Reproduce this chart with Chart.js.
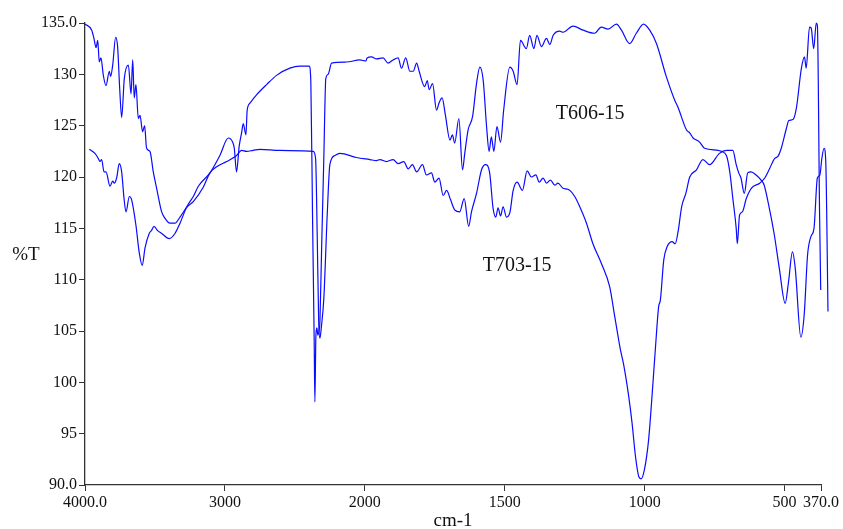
<!DOCTYPE html>
<html>
<head>
<meta charset="utf-8">
<script src="https://cdn.jsdelivr.net/npm/chart.js@4.4.1/dist/chart.umd.min.js"></script>
<style>
  html, body { margin: 0; padding: 0; background: #fff; }
  #wrap { width: 843px; height: 529px; }
</style>
</head>
<body>
<div id="wrap"><canvas id="ir-chart" width="843" height="529"></canvas></div>
<script>
// wavenumbers (cm-1) and %T
var waveT606 = [4000,3952,3936,3921,3909,3898,3886,3869,3850,3826,3817,3802,3781,3767,3752,3738,3719,3690,3671,3659,3648,3636,3619,3607,3588,3574,3560,3536,3512,3488,3452,3429,3393,3357,3321,3250,3226,3190,3107,3036,2976,2945,2933,2917,2898,2881,2869,2850,2841,2821,2774,2702,2631,2536,2464,2398,2386,2374,2362,2357,2350,2343,2336,2328,2321,2309,2293,2279,2262,2238,2131,2036,1996,1992,1976,1958,1935,1917,1899,1881,1869,1854,1839,1827,1815,1806,1786,1777,1770,1758,1744,1735,1724,1712,1696,1687,1679,1664,1651,1643,1631,1615,1601,1589,1577,1565,1556,1548,1539,1528,1515,1504,1482,1470,1456,1444,1423,1411,1396,1385,1369,1351,1339,1327,1304,1292,1256,1220,1179,1155,1131,1101,1083,1054,1030,1004,982,958,923,893,881,851,839,827,815,804,786,738,726,708,696,685,673,669,661,651,637,619,589,571,554,536,524,512,494,485,470,458,440,429,423,411,405,396,387,383,375,371];
var pctT606 = [134.9,134.3,133.5,132.6,133.3,131.2,131.6,129.9,128.9,130.3,129.8,130.9,133.6,132.7,128.6,125.8,129.6,130.9,128.1,131.4,127.7,129.0,125.7,126.0,124.4,125.0,122.8,122.5,120.5,118.9,116.6,116.0,115.5,115.5,116.1,117.6,118.1,119.1,120.4,122.1,123.8,123.4,122.8,120.5,123.0,124.3,125.2,124.1,126.5,127.2,128.0,129.0,129.9,130.6,130.8,130.8,129.3,116.3,104.0,98.1,104.5,105.3,104.6,105.0,106.0,113.0,122.0,129.6,130.0,131.1,131.2,131.4,131.3,131.6,131.7,131.5,131.6,131.1,131.4,131.6,130.6,131.6,130.3,130.3,131.1,130.3,128.8,129.4,128.5,129.1,126.5,127.2,127.7,126.0,123.6,124.1,123.3,125.7,120.7,122.3,124.6,125.9,129.1,130.7,129.4,124.9,122.5,123.9,122.5,124.9,123.4,126.5,130.7,130.3,129.0,133.3,132.5,133.8,132.5,133.8,132.7,133.5,132.9,133.8,134.2,134.1,134.7,134.3,134.0,134.6,134.4,134.9,134.3,133.0,134.0,134.9,134.3,133.0,129.8,127.5,126.8,124.6,124.3,123.8,123.6,123.4,122.8,122.6,122.5,122.1,120.5,117.9,115.0,113.5,116.3,116.6,117.9,118.9,119.4,119.9,120.8,121.8,122.0,122.8,124.7,125.5,125.6,126.7,130.6,131.7,130.6,134.6,134.5,132.5,135.0,134.8,116.3,109.0];

var waveT703 = [3969,3929,3905,3893,3881,3864,3850,3821,3802,3791,3774,3755,3738,3721,3707,3683,3667,3636,3612,3591,3571,3541,3524,3507,3483,3452,3398,3357,3321,3274,3226,3155,3107,3059,2988,2917,2881,2845,2798,2750,2607,2369,2352,2340,2330,2321,2310,2293,2269,2250,2214,2179,2060,1982,1958,1946,1923,1899,1881,1861,1845,1830,1815,1794,1780,1762,1750,1735,1720,1708,1694,1679,1661,1645,1629,1619,1601,1583,1569,1554,1542,1532,1524,1515,1506,1494,1482,1470,1456,1437,1420,1405,1389,1377,1363,1351,1337,1321,1310,1292,1274,1250,1232,1208,1185,1155,1125,1107,1099,1087,1075,1057,1045,1033,1021,1013,1001,986,974,962,950,944,932,920,902,891,880,868,853,839,815,792,768,733,708,685,673,664,656,644,632,620,602,584,573,555,537,519,498,486,472,462,442,430,418,406,395,383,374,367,359,353,345];
var pctT703 = [122.7,122.3,121.8,121.5,121.7,120.5,120.5,119.1,119.6,119.4,119.9,121.3,120.5,117.9,116.6,118.1,117.8,115.3,112.6,111.4,113.1,114.5,114.8,115.2,114.8,114.5,114.0,114.5,115.5,117.0,117.6,119.0,120.4,121.0,121.5,122.1,122.6,122.5,122.6,122.7,122.6,122.5,121.8,114.0,106.0,104.3,105.5,108.2,116.3,121.2,122.1,122.3,121.9,121.7,121.6,121.7,121.5,121.7,121.3,121.5,120.8,121.2,120.5,121.2,120.2,120.4,119.5,119.9,118.2,118.7,117.8,116.8,116.6,117.9,115.2,116.6,118.4,120.7,121.2,120.4,117.0,116.1,117.0,116.2,117.1,116.1,116.5,118.7,119.5,118.7,120.6,120.0,120.2,119.5,119.9,119.4,119.7,119.2,119.4,118.9,118.8,118.1,117.1,115.5,113.5,111.6,109.3,106.4,105.1,103.2,101.7,98.6,96.0,92.8,90.8,90.6,91.5,94.4,98.6,103.2,107.4,108.0,111.9,113.2,113.7,113.5,114.8,117.1,118.4,120.0,120.7,121.7,121.2,122.3,122.6,122.6,121.2,120.4,119.9,118.4,120.4,120.5,120.2,119.7,119.2,117.0,114.4,111.1,107.7,109.8,112.7,111.1,104.4,106.6,112.4,114.2,115.0,119.9,120.2,121.8,122.8,121.5,106.9];

var xTickValues = [4000, 3000, 2000, 1500, 1000, 500, 370];
var xTickLabels = ['4000.0', '3000', '2000', '1500', '1000', '500', '370.0'];
var yTickLabels = {90: '90.0', 135: '135.0'};

var seriesNames = ['T606-15', 'T703-15'];
var labelWave = [1318, 1579];
var labelPct = [126.2, 111.4];

// the instrument plots above 2000 cm-1 at half scale
function toAxis(w) {
    return w <= 2000 ? w : 2000 + (w - 2000) / 2;
}

function buildPoints(waves, vals) {
    return waves.map(function (w, i) {
        return { x: toAxis(w), y: vals[i] };
    });
}

var serif = "'Liberation Serif', 'Times New Roman', serif";

var extraText = {
    id: 'extraText',
    afterDraw: function (chart) {
        var c = chart.ctx;
        var xs = chart.scales.x;
        var ys = chart.scales.y;
        var area = chart.chartArea;
        c.save();
        c.fillStyle = '#111';
        c.textBaseline = 'middle';
        c.textAlign = 'left';
        c.font = '20px ' + serif;
        for (var i = 0; i < seriesNames.length; i++) {
            c.fillText(seriesNames[i], xs.getPixelForValue(toAxis(labelWave[i])), ys.getPixelForValue(labelPct[i]));
        }
        c.font = '19px ' + serif;
        c.textAlign = 'center';
        c.fillText('%T', 26, (area.top + area.bottom) / 2 + 1);
        c.textBaseline = 'alphabetic';
        c.fillText('cm-1', (area.left + area.right) / 2, area.bottom + 41);
        c.restore();
    }
};

function lineSet(name, pts) {
    return {
        label: name,
        data: pts,
        borderColor: '#0a0aff',
        borderWidth: 1.2,
        pointRadius: 0,
        cubicInterpolationMode: 'monotone',
        clip: false
    };
}

var ctx = document.getElementById('ir-chart');
var chart = new Chart(ctx, {
    type: 'line',
    data: {
        datasets: [
            lineSet(seriesNames[0], buildPoints(waveT606, pctT606)),
            lineSet(seriesNames[1], buildPoints(waveT703, pctT703))
        ]
    },
    options: {
        responsive: false,
        animation: false,
        layout: { padding: { top: 23, right: 22, left: 0, bottom: 0 } },
        plugins: {
            legend: { display: false },
            tooltip: { enabled: false }
        },
        scales: {
            x: {
                type: 'linear',
                reverse: true,
                min: toAxis(370),
                max: toAxis(4000),
                afterBuildTicks: function (scale) {
                    scale.ticks = xTickValues.map(function (w) { return { value: toAxis(w) }; });
                },
                afterFit: function (scale) { scale.height = 44; },
                grid: { drawOnChartArea: false, drawTicks: true, tickLength: 6, color: '#333' },
                border: { display: true, color: '#333', width: 1.3 },
                ticks: {
                    autoSkip: false,
                    maxRotation: 0,
                    padding: 2,
                    color: '#111',
                    font: { family: serif, size: 16 },
                    callback: function (value) {
                        for (var i = 0; i < xTickValues.length; i++) {
                            if (Math.abs(toAxis(xTickValues[i]) - value) < 0.01) return xTickLabels[i];
                        }
                        return '';
                    }
                }
            },
            y: {
                min: 90,
                max: 135,
                afterFit: function (scale) { scale.width = 85; },
                grid: { drawOnChartArea: false, drawTicks: true, tickLength: 6, color: '#333' },
                border: { display: true, color: '#333', width: 1.3 },
                ticks: {
                    stepSize: 5,
                    padding: 2,
                    color: '#111',
                    font: { family: serif, size: 16 },
                    callback: function (value) {
                        return yTickLabels[value] || String(value);
                    }
                }
            }
        }
    },
    plugins: [extraText]
});
</script>
</body>
</html>
